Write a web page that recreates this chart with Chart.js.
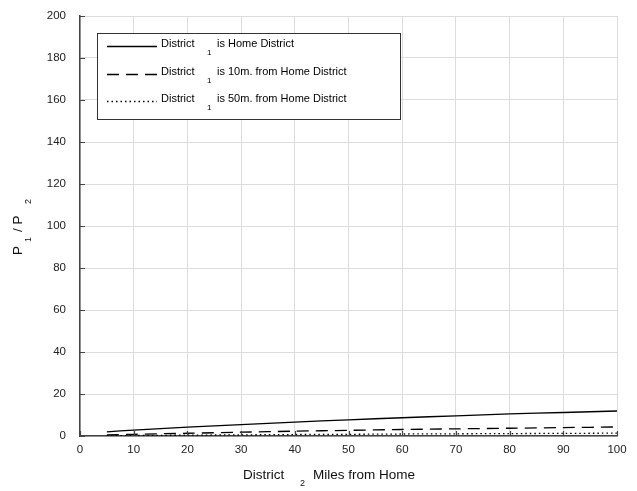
<!DOCTYPE html>
<html>
<head>
<meta charset="utf-8">
<script src="https://cdn.jsdelivr.net/npm/chart.js@4"></script>
<style>
  body { margin: 0; background: #fff; }
  #wrap { width: 637px; height: 491px; }
</style>
</head>
<body>
<div id="wrap"><canvas id="chart" width="637" height="491"></canvas></div>
<script>
var miles = [5, 10, 20, 30, 40, 50, 60, 70, 80, 90, 100];
var homeDistrict = [2.0, 2.8, 4.2, 5.4, 6.6, 7.7, 8.7, 9.6, 10.5, 11.2, 11.9];
var tenMiles = [0.5, 0.8, 1.3, 1.8, 2.3, 2.7, 3.1, 3.4, 3.7, 4.0, 4.3];
var fiftyMiles = [0.15, 0.25, 0.4, 0.55, 0.7, 0.8, 0.95, 1.05, 1.15, 1.25, 1.35];
var legendNames = ['is Home District', 'is 10m. from Home District', 'is 50m. from Home District'];

var font = 'Liberation Sans, Arial, sans-serif';

function pts(ys) {
  return miles.map(function (m, i) { return { x: m, y: ys[i] }; });
}

var series = [
  { data: pts(homeDistrict), dash: [] },
  { data: pts(tenMiles), dash: [12, 7] },
  { data: pts(fiftyMiles), dash: [1.5, 3] }
];

var decorations = {
  id: 'decorations',
  afterDraw: function (chart) {
    var ctx = chart.ctx;
    var xs = chart.scales.x, ys = chart.scales.y;
    var a = chart.chartArea;
    ctx.save();
    // inward tick marks
    ctx.strokeStyle = '#444';
    ctx.lineWidth = 1.2;
    ctx.beginPath();
    for (var v = 0; v <= 100; v += 10) {
      var px = Math.round(xs.getPixelForValue(v)) + 0.5;
      ctx.moveTo(px, a.bottom); ctx.lineTo(px, a.bottom - 5);
    }
    for (var w = 0; w <= 200; w += 20) {
      var py = Math.round(ys.getPixelForValue(w)) + 0.5;
      ctx.moveTo(a.left, py); ctx.lineTo(a.left + 5, py);
    }
    ctx.stroke();

    // legend box
    var bx = 97.5, by = 33.5, bw = 303, bh = 86;
    ctx.fillStyle = '#fff';
    ctx.fillRect(bx, by, bw, bh);
    ctx.strokeStyle = '#333';
    ctx.lineWidth = 1;
    ctx.strokeRect(bx, by, bw, bh);
    var rows = [44, 72, 99];
    ctx.fillStyle = '#000';
    ctx.textBaseline = 'middle';
    rows.forEach(function (ry, i) {
      ctx.strokeStyle = '#000';
      ctx.lineWidth = 1.3;
      ctx.setLineDash(series[i].dash);
      ctx.beginPath();
      ctx.moveTo(107, ry + 2.5); ctx.lineTo(157, ry + 2.5);
      ctx.stroke();
      ctx.setLineDash([]);
      ctx.font = '11px ' + font;
      ctx.textAlign = 'left';
      ctx.fillText('District', 161, ry);
      ctx.font = '8px ' + font;
      ctx.fillText('1', 207, ry + 9);
      ctx.font = '11px ' + font;
      ctx.fillText(legendNames[i], 217, ry);
    });

    // x axis title
    ctx.fillStyle = '#111';
    ctx.font = '13.5px ' + font;
    ctx.textAlign = 'left';
    ctx.fillText('District', 243, 475);
    ctx.font = '9px ' + font;
    ctx.fillText('2', 300, 484);
    ctx.font = '13.5px ' + font;
    ctx.fillText('Miles from Home', 313, 475);

    // y axis title
    ctx.translate(18, 0);
    ctx.rotate(-Math.PI / 2);
    ctx.font = '13.5px ' + font;
    ctx.fillText('P', -255, 0);
    ctx.font = '9px ' + font;
    ctx.fillText('1', -242, 11);
    ctx.font = '13.5px ' + font;
    ctx.fillText('/ P', -232, 0);
    ctx.font = '9px ' + font;
    ctx.fillText('2', -204, 11);
    ctx.restore();
  }
};

new Chart(document.getElementById('chart').getContext('2d'), {
  type: 'line',
  data: {
    datasets: series.map(function (s) {
      return {
        data: s.data,
        borderColor: '#000',
        borderWidth: 1.3,
        borderDash: s.dash,
        pointRadius: 0,
        tension: 0.3,
        fill: false
      };
    })
  },
  options: {
    responsive: false,
    animation: false,
    layout: { padding: { top: 16, right: 20, left: 0, bottom: 0 } },
    plugins: { legend: { display: false }, tooltip: { enabled: false } },
    scales: {
      x: {
        type: 'linear', min: 0, max: 100,
        ticks: { stepSize: 10, color: '#222', font: { family: font, size: 11.5 }, padding: 7 },
        grid: { color: '#ddd', tickLength: 0, drawTicks: false },
        border: { color: '#444', width: 1.5 },
        afterFit: function (s) { s.height = 55; }
      },
      y: {
        min: 0, max: 200,
        ticks: { stepSize: 20, color: '#222', font: { family: font, size: 11.5 }, padding: 14 },
        grid: { color: '#ddd', tickLength: 0, drawTicks: false },
        border: { color: '#444', width: 1.5 },
        afterFit: function (s) { s.width = 80; s.paddingTop = 0; s.paddingBottom = 0; }
      }
    }
  },
  plugins: [decorations]
});
</script>
</body>
</html>
